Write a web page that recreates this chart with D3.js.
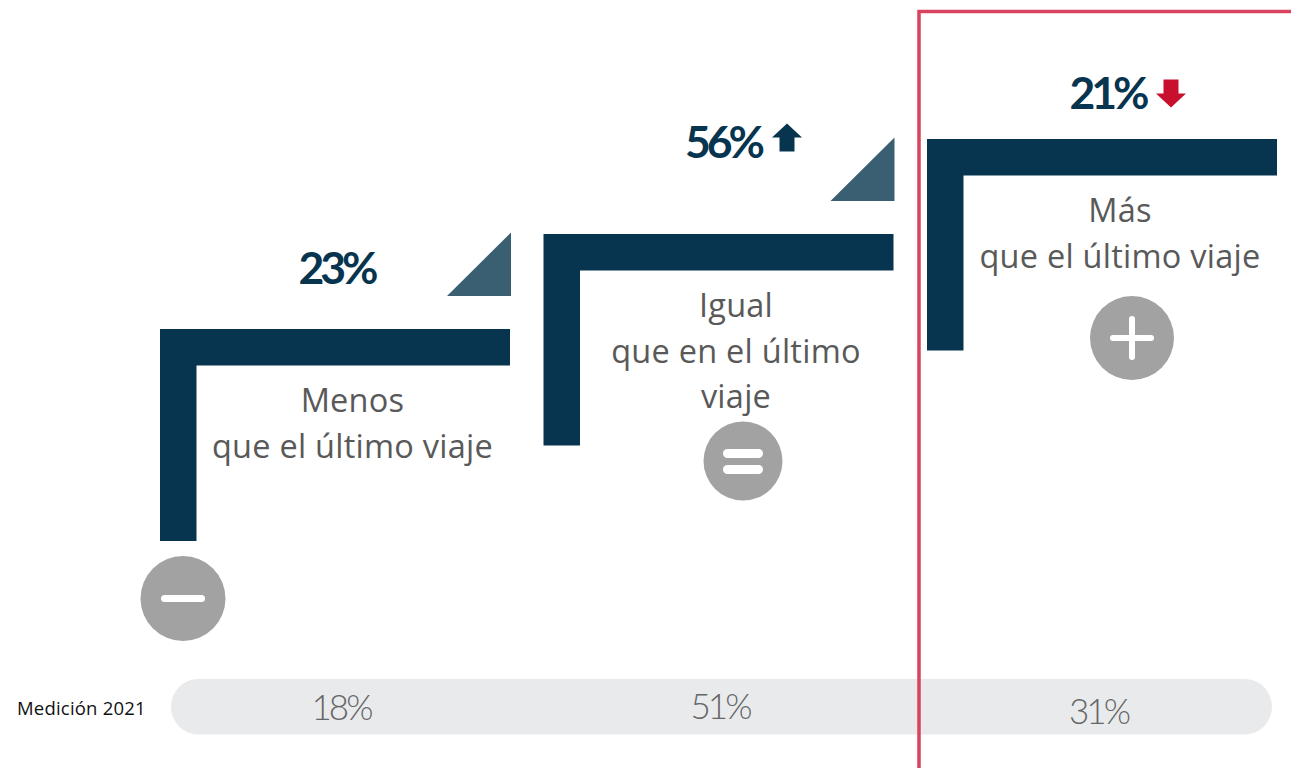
<!DOCTYPE html>
<html><head><meta charset="utf-8">
<script src="https://cdnjs.cloudflare.com/ajax/libs/d3/7.8.5/d3.min.js"></script>
<style>html,body{margin:0;padding:0;background:#fff}svg{display:block}</style>
</head><body><svg id="c" width="1291" height="768"></svg>
<script>
const categories = ["Menos", "Igual", "Más"];
const labelLines = [["Menos","que el último viaje"],["Igual","que en el último","viaje"],["Más","que el último viaje"]];
const current = [23, 56, 21];
const previous = [18, 51, 31];
const trend = ["none", "up", "down"];
const footerLabel = "Medición 2021";

const svg = d3.select("#c");
const NAVY="#07344f", TRI="#3a5f73", GREY="#a2a2a2", TXT="#595959", RED="#d9435f";
const xStep = d3.scaleLinear().domain([0,2]).range([160,927]);
const yStep = d3.scaleLinear().domain([0,2]).range([329,139]);
const T=36.5, W=350, H=[212,211.5,211.5];

// footer pill
svg.append("rect").attr("x",171).attr("y",679).attr("width",1101).attr("height",55.5).attr("rx",27.5).attr("fill","#e9eaec");
svg.append("text").attr("x",17).attr("y",715).attr("font-family","'Open Sans'").attr("font-size",18.5).attr("letter-spacing",0.2).attr("fill","#111").text(footerLabel);
const prevX=[341,720,1098.5], prevY=[719.5,718.5,723.5];
svg.selectAll(".prev").data(previous).join("text").attr("class","prev")
  .attr("x",(d,i)=>prevX[i]).attr("y",(d,i)=>prevY[i]).attr("text-anchor","middle")
  .attr("font-family","Lato").attr("font-weight",300).attr("font-size",35).attr("letter-spacing",-3).attr("fill","#666").text(d=>d+"%");

// steps
const g = svg.selectAll(".step").data(categories).join("g").attr("class","step");
g.append("path").attr("fill",NAVY).attr("d",(d,i)=>{
  const a=xStep(i),b=yStep(i);
  return d3.line()([[a,b],[a+W,b],[a+W,b+T],[a+T,b+T],[a+T,b+H[i]],[a,b+H[i]]])+"Z";
});

// triangles on the first two steps
svg.selectAll(".tri").data(categories.slice(0,2)).join("path").attr("class","tri").attr("fill",TRI)
 .attr("d",(d,i)=>{const r=xStep(i)+351,bt=yStep(i)-33;return d3.line()([[r-64,bt],[r,bt],[r,bt-63.5]])+"Z";});

// category labels
const lblX=[352.5,736,1120], lblY=[412,317,222];
labelLines.forEach((lines,i)=>{
  svg.selectAll(".l"+i).data(lines).join("text").attr("class","l"+i)
   .attr("x",lblX[i]).attr("y",(d,j)=>lblY[i]+j*45.7).attr("text-anchor","middle")
   .attr("font-family","'Open Sans'").attr("font-size",32.5).attr("letter-spacing",0.25).attr("fill",TXT).text(d=>d);
});

// percent values
const valX=[336.5,723,1107.5], valY=[284,158,109];
svg.selectAll(".val").data(current).join("text").attr("class","val")
  .attr("x",(d,i)=>valX[i]).attr("y",(d,i)=>valY[i]).attr("text-anchor","middle")
  .attr("font-family","Lato").attr("font-weight",700).attr("font-size",44.5).attr("letter-spacing",-4).attr("fill",NAVY).text(d=>d+"%");

// trend arrows
const arrow = (cx,tip,dir,fill)=>{
  const s=dir; // +1 = points down
  const hw=15,hh=14,sw=7.5,len=28;
  svg.append("path").attr("fill",fill).attr("d",d3.line()([
    [cx,tip],[cx+hw,tip-s*hh],[cx+sw,tip-s*hh],[cx+sw,tip-s*len],[cx-sw,tip-s*len],[cx-sw,tip-s*hh],[cx-hw,tip-s*hh]
  ])+"Z");
};
trend.forEach((t,i)=>{
  if(t==="up") arrow(787,123.5,-1,NAVY);
  if(t==="down") arrow(1171,107.5,1,"#c8102e");
});

// icons
const icons=[{cx:183,cy:598.5,r:42.5,k:"minus"},{cx:743,cy:461,r:39.5,k:"equal"},{cx:1132,cy:338,r:42,k:"plus"}];
icons.forEach(o=>{
  svg.append("circle").attr("cx",o.cx).attr("cy",o.cy).attr("r",o.r).attr("fill",GREY);
  const bar=(x0,y0,w,h)=>svg.append("rect").attr("x",x0).attr("y",y0).attr("width",w).attr("height",h).attr("rx",Math.min(w,h)/2).attr("fill","#fff");
  if(o.k==="minus") bar(o.cx-22,o.cy-3.5,44,7);
  if(o.k==="equal"){bar(o.cx-20,o.cy-12,40,9);bar(o.cx-20,o.cy+4,40,9);}
  if(o.k==="plus"){bar(o.cx-22,o.cy-3,44,6);bar(o.cx-3,o.cy-22,6,44);}
});

// highlight frame
svg.append("path").attr("fill","none").attr("stroke",RED).attr("stroke-width",3.5)
  .attr("d","M919,780V11.5H1300");
</script></body></html>
